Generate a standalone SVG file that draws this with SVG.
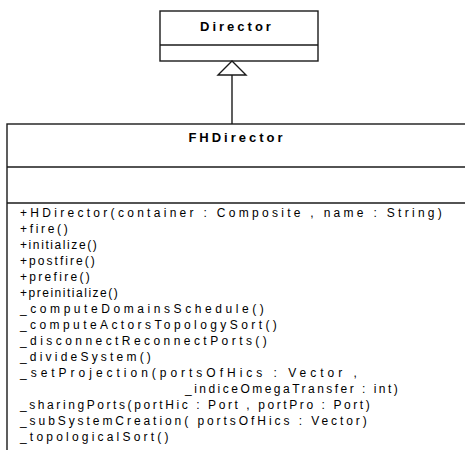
<svg xmlns="http://www.w3.org/2000/svg" width="465" height="450" viewBox="0 0 465 450">
<style>
.box{fill:#fff;stroke:#1a1a1a;stroke-width:1.4}
.sep{stroke:#1a1a1a;stroke-width:1.4}
.title{font-family:"Liberation Sans",Arial,sans-serif;font-size:13px;font-weight:bold;fill:#000;letter-spacing:3px}
.op{font-family:"Liberation Sans",Arial,sans-serif;font-size:12px;fill:#000;letter-spacing:3.2px}
.conn{stroke:#1a1a1a;stroke-width:1.4;fill:none}
</style>
<rect width="465" height="450" fill="#fff"/>
<g id="Director">
<rect class="box" x="160" y="11" width="158" height="50"/>
<line class="sep" x1="160" y1="45" x2="318" y2="45"/>
<text class="title" x="237" y="31" text-anchor="middle">Director</text>
</g>
<g id="FHDirector">
<rect class="box" x="7" y="124" width="470" height="340"/>
<line class="sep" x1="7" y1="167" x2="466" y2="167"/>
<line class="sep" x1="7" y1="203" x2="466" y2="203"/>
<text class="title" x="237" y="142" text-anchor="middle">FHDirector</text>
<g class="op">
<text x="20" y="217" textLength="425" lengthAdjust="spacing">+HDirector(container : Composite , name : String)</text>
<text x="20" y="233" textLength="51" lengthAdjust="spacing">+fire()</text>
<text x="20" y="249" textLength="80" lengthAdjust="spacing">+initialize()</text>
<text x="20" y="265" textLength="78" lengthAdjust="spacing">+postfire()</text>
<text x="20" y="281" textLength="73" lengthAdjust="spacing">+prefire()</text>
<text x="20" y="297" textLength="101" lengthAdjust="spacing">+preinitialize()</text>
<text x="20" y="313" textLength="247" lengthAdjust="spacing">_computeDomainsSchedule()</text>
<text x="20" y="329" textLength="260" lengthAdjust="spacing">_computeActorsTopologySort()</text>
<text x="20" y="345" textLength="250" lengthAdjust="spacing">_disconnectReconnectPorts()</text>
<text x="20" y="361">_divideSystem()</text>
<text x="20" y="377" textLength="340" lengthAdjust="spacing">_setProjection(portsOfHics : Vector ,</text>
<text x="185" y="393" textLength="216" lengthAdjust="spacing">_indiceOmegaTransfer : int)</text>
<text x="20" y="409" textLength="353" lengthAdjust="spacing">_sharingPorts(portHic : Port , portPro : Port)</text>
<text x="20" y="425" textLength="350" lengthAdjust="spacing">_subSystemCreation( portsOfHics : Vector)</text>
<text x="20" y="441">_topologicalSort()</text>
</g>
</g>
<g id="connectors">
<line class="conn" x1="232" y1="75" x2="232" y2="124"/>
<polygon class="conn" points="232,61 218,75 246,75" style="fill:#fff"/>
</g>
</svg>
